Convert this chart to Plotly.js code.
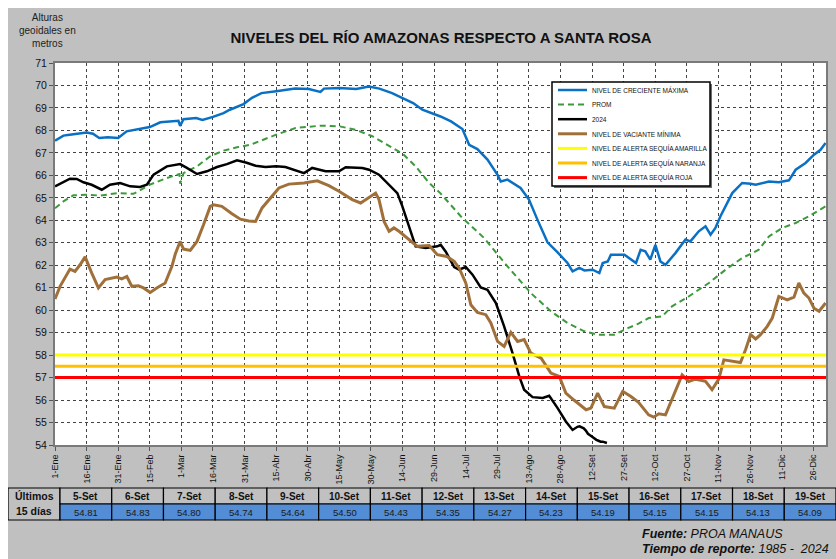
<!DOCTYPE html>
<html><head><meta charset="utf-8">
<script src="https://cdn.plot.ly/plotly-3.0.1.min.js"></script>
<style>
html,body{margin:0;padding:0;background:#ffffff;}
#chart{position:absolute;left:8px;top:8px;width:828px;height:551px;}
</style></head><body><div id="chart"></div>
<script>
// ---- Data (day of year index, 0 = 1-Ene, leap year) ----
const maxDays=[0,4,7,15,18,21,25,30,34,39,45,50,58.6,59.4,61,67,70,75,80,83,89.5,93.5,98,105,109,114,120.5,124.5,126,127.7,135,143,149,154,160,165,170,174.4,180,183,188,193.4,196.6,200.5,205.3,210,211.6,214.8,221,225,229,233.8,238.6,243.3,245.7,248.9,251.3,255.2,258.4,260,262.4,263.9,270.3,275.8,278,280.2,282.6,285,287.4,289.8,294.5,299.3,301.6,305.6,308.8,311.2,313.5,315.9,321.5,326.2,330.2,332.6,338.9,343.6,348.4,351.6,356.3,360.3,363.4,365.8];
const maxVals=[67.54,67.77,67.81,67.91,67.85,67.66,67.70,67.66,67.96,68.06,68.15,68.36,68.43,68.20,68.50,68.55,68.47,68.60,68.77,68.92,69.17,69.45,69.66,69.74,69.78,69.86,69.84,69.77,69.71,69.86,69.89,69.84,69.95,69.86,69.66,69.44,69.22,68.92,68.73,68.62,68.40,68.06,67.36,67.17,66.70,66.03,65.73,65.81,65.44,64.92,64.03,63.02,62.57,62.10,61.73,61.88,61.77,61.80,61.65,62.10,62.17,62.47,62.47,62.10,62.69,62.62,62.25,62.91,62.17,62.02,62.54,63.14,63.06,63.51,63.73,63.36,63.66,64.18,65.21,65.66,65.63,65.58,65.73,65.69,65.78,66.25,66.55,66.92,67.14,67.44];

const promDays=[0,4,8.7,14.7,21.4,29.8,37.2,39.6,44.8,53.1,59.1,59.4,61,67.4,73.7,80,86.4,92.7,96.8,105,114.2,126.1,135.1,142.7,150.6,158.6,165.2,171.2,177.6,183,192.6,203.7,214.8,225.9,235.4,243.3,251.3,257.6,265.5,271.9,277,281.8,288.2,292.9,300.8,310.4,318.3,326.2,334.1,338.9,345.2,351.6,357.9,365.8];
const promVals=[64.54,64.84,65.11,65.14,65.10,65.21,65.18,65.29,65.58,65.88,66.06,65.63,66.10,66.40,66.85,67.10,67.25,67.36,67.51,67.81,68.11,68.21,68.18,68.03,67.74,67.32,66.95,66.40,65.66,65.20,64.18,63.21,61.95,60.76,59.95,59.43,59.06,58.91,58.91,59.20,59.40,59.65,59.72,60.17,60.61,61.21,61.80,62.32,62.69,63.28,63.66,63.88,64.18,64.62];

const y2024Days=[0,4,7.1,10.3,13.5,17.4,22.2,26.1,30.9,35.7,40.4,43.6,46.8,53.1,59.4,62.6,67.4,72.1,76.9,81.6,86.4,91,95.2,99.9,105,109.4,114.2,118.2,122.1,128.5,134.8,138,145.9,149.1,153.8,158.6,162.5,164.9,168.1,171.2,176,181.5,183.1,185.5,189.5,191.8,195,198.2,202.1,205.3,209.3,213.2,217.2,220.4,222.7,226.7,231.5,234.6,238.6,242.5,245.7];
const y2024Vals=[65.51,65.69,65.85,65.84,65.69,65.58,65.36,65.58,65.66,65.51,65.48,65.58,66.03,66.40,66.50,66.33,66.06,66.18,66.37,66.50,66.67,66.56,66.43,66.37,66.40,66.37,66.22,66.10,66.33,66.18,66.18,66.36,66.33,66.25,66.03,65.58,65.21,64.62,63.66,62.84,62.77,62.84,62.91,62.60,61.92,61.80,61.92,61.58,61.01,60.91,60.32,59.28,58.09,57.05,56.46,56.13,56.09,56.19,55.64,55.05,54.67];

// Last 15 days (table)
const lastLabels=['5-Set','6-Set','7-Set','8-Set','9-Set','10-Set','11-Set','12-Set','13-Set','14-Set','15-Set','16-Set','17-Set','18-Set','19-Set'];
const lastDays=[248,249,250,251,252,253,254,255,256,257,258,259,260,261,262];
const lastVals=[54.81,54.83,54.80,54.74,54.64,54.50,54.43,54.35,54.27,54.23,54.19,54.15,54.15,54.13,54.09];

const minDays=[0,2.4,7.1,9.5,11.9,14.3,17.4,20.6,23.8,27.7,29.3,31.7,34.1,36.5,39.6,42,45.2,48.3,52.3,55.5,57.1,59.4,61,64.2,67.4,70.5,73.7,75.3,79.2,84,88,92,95.2,98.3,102.3,106.3,111,118.2,124.5,130,134.8,141.1,145.1,149.1,152.2,153.8,156.2,158.6,160.9,163.3,165.7,168.9,172,177.6,181.5,186,189.5,191.8,195,197.4,200.5,204.5,206.9,210.1,213.2,216.4,219.6,222.7,225.9,230.7,235.4,239.4,242.5,246.5,252.1,254.4,257.6,260.8,265.5,269.5,273.4,277,281.8,284.2,286.6,289.8,292.9,295.3,297.7,300.8,304,307.2,308.8,311.9,315.1,317.5,321.5,325.4,327.8,330.2,332.6,334.9,338.1,340.5,343.6,347.6,350.8,353.1,355.5,357.9,360.3,362.7,365.8];
const minVals=[60.50,61.06,61.83,61.73,62.02,62.37,61.66,60.99,61.36,61.43,61.47,61.39,61.50,61.06,61.09,60.99,60.79,60.99,61.21,61.95,62.50,63.06,62.72,62.66,63.06,63.80,64.62,64.69,64.62,64.29,64.05,63.97,63.95,64.55,64.99,65.44,65.61,65.66,65.76,65.54,65.29,64.92,64.77,65.04,65.21,64.92,63.95,63.51,63.66,63.51,63.33,63.06,62.84,62.88,62.47,62.39,62.17,61.88,61.21,60.24,59.90,59.80,59.43,58.61,58.39,59.01,58.61,58.69,58.09,57.87,57.20,57.05,56.31,55.99,55.57,55.64,56.31,55.71,55.64,56.39,56.16,55.90,55.34,55.24,55.39,55.34,56.01,56.53,57.12,56.83,56.93,56.87,56.83,56.46,56.93,57.79,57.72,57.67,58.24,58.91,58.72,58.91,59.28,59.65,60.61,60.46,60.58,61.21,60.76,60.54,60.09,59.95,60.32];

const alertNames=['NIVEL DE ALERTA SEQUÍA AMARILLA','NIVEL DE ALERTA SEQUÍA NARANJA','NIVEL DE ALERTA SEQUÍA ROJA'];
const alertLevels=[58.0,57.5,57.0];
const alertSpan=[0,366];

const xTickVals=[0,15,30,45,60,75,90,105,120,135,150,165,180,195,210,225,240,255,270,285,300,315,330,345,360];
const xTickText=['1-Ene','16-Ene','31-Ene','15-Feb','1-Mar','16-Mar','31-Mar','15-Abr','30-Abr','15-May','30-May','14-Jun','29-Jun','14-Jul','29-Jul','13-Ago','28-Ago','12-Set','27-Set','12-Oct','27-Oct','11-Nov','26-Nov','11-Dic','26-Dic'];

// ---- Layout helpers (page px -> paper fraction; figure origin at page (8,8)) ----
const W=828,H=551,OX=8,OY=8;
const fx=x=>(x-OX)/W, fy=y=>1-(y-OY)/H;
const FONT='Liberation Sans, Arial, sans-serif';

const traces=[
  {name:'NIVEL DE CRECIENTE MÁXIMA',x:maxDays,y:maxVals,color:'#0A70C4',width:2.5,dash:'solid'},
  {name:'PROM',x:promDays,y:promVals,color:'#3C9A3C',width:2,dash:'6px,4px'},
  {name:'2024',x:y2024Days.concat(lastDays),y:y2024Vals.concat(lastVals),color:'#000000',width:2.5,dash:'solid'},
  {name:'NIVEL DE VACIANTE MÍNIMA',x:minDays,y:minVals,color:'#A0703A',width:3,dash:'solid'}
];
const alertColors=['#FFFF00','#FFC000','#FF0000'];
alertLevels.forEach((lv,i)=>traces.push({name:alertNames[i],x:alertSpan,y:[lv,lv],color:alertColors[i],width:3,dash:'solid'}));

const data=traces.map(t=>({type:'scatter',mode:'lines',name:t.name,x:t.x,y:t.y,
  line:{color:t.color,width:t.width,dash:t.dash},hoverinfo:'skip',showlegend:false}));

const shapes=[], annotations=[];
const txt=(x,y,text,size,opts)=>Object.assign({xref:'paper',yref:'paper',x:fx(x),y:fy(y),xanchor:'center',yanchor:'middle',
  showarrow:false,text:text,font:{family:FONT,size:size,color:'#111'}},opts||{});

// Manual legend
const lgL=552,lgR=710,lgT=82,lgB=186;
shapes.push({type:'rect',xref:'paper',yref:'paper',x0:fx(lgL+2),x1:fx(lgR+2),y0:fy(lgB+2),y1:fy(lgT+2),fillcolor:'#6e6e6e',line:{width:0},layer:'above'});
shapes.push({type:'rect',xref:'paper',yref:'paper',x0:fx(lgL),x1:fx(lgR),y0:fy(lgB),y1:fy(lgT),fillcolor:'#ffffff',line:{color:'#000',width:1.5},layer:'above'});
traces.forEach((t,i)=>{
  const yy=90+i*14.6;
  shapes.push({type:'line',xref:'paper',yref:'paper',x0:fx(558),x1:fx(587),y0:fy(yy),y1:fy(yy),line:{color:t.color,width:t.width,dash:t.dash},layer:'above'});
  annotations.push(txt(590,yy,t.name,6.5,{xanchor:'left'}));
});

// Table
const tT=488,tM=504,tB=520,tL=8,fR=60,colW=(836-60)/15;
shapes.push({type:'rect',xref:'paper',yref:'paper',x0:fx(tL),x1:fx(fR),y0:fy(tB),y1:fy(tT),fillcolor:'#C0C0C0',line:{color:'#000',width:1.2},layer:'below'});
annotations.push(txt((tL+fR)/2,496,'<b>Últimos</b>',10.5));
annotations.push(txt((tL+fR)/2,511,'<b>15 días</b>',10.5));
lastLabels.forEach((lab,i)=>{
  const x0=fR+i*colW,x1=x0+colW;
  shapes.push({type:'rect',xref:'paper',yref:'paper',x0:fx(x0),x1:fx(x1),y0:fy(tM),y1:fy(tT),fillcolor:'#C0C0C0',line:{color:'#000',width:1.2},layer:'below'});
  shapes.push({type:'rect',xref:'paper',yref:'paper',x0:fx(x0),x1:fx(x1),y0:fy(tB),y1:fy(tM),fillcolor:'#538DD5',line:{color:'#000',width:1.2},layer:'below'});
  annotations.push(txt((x0+x1)/2,496,'<b>'+lab+'</b>',10));
  annotations.push(txt((x0+x1)/2,512,lastVals[i].toFixed(2),9.5,{font:{family:FONT,size:9.5,color:'#1a1a1a'}}));
});

// Y title
annotations.push(txt(47,31,'Alturas<br>geoidales en<br>metros',10,{font:{family:FONT,size:10,color:'#222'}}));

// Footer
annotations.push(txt(640,534,'<b><i>Fuente:</i></b><i> PROA MANAUS</i>',12.5,{xanchor:'left'}));
annotations.push(txt(640,549,'<b><i>Tiempo de reporte:</i></b><i> 1985 -  2024</i>',12.5,{xanchor:'left'}));

const layout={
  width:W,height:H,
  margin:{l:0,r:0,t:0,b:0},
  paper_bgcolor:'#C0C0C0',plot_bgcolor:'#FFFFFF',
  showlegend:false,
  title:{text:'<b>NIVELES DEL RÍO AMAZONAS RESPECTO A SANTA ROSA</b>',x:fx(441),y:fy(38),xanchor:'center',yanchor:'middle',
    font:{family:FONT,size:15,color:'#111'}},
  xaxis:{domain:[fx(55),fx(826)],range:[0,366],tickmode:'array',tickvals:xTickVals,ticktext:xTickText,tickangle:-90,
    tickfont:{family:FONT,size:9,color:'#111'},ticks:'outside',ticklen:4,tickcolor:'#555',
    showgrid:true,gridcolor:'#444',griddash:'dot',gridwidth:1,zeroline:false,
    showline:true,linecolor:'#7a7a7a',linewidth:2,mirror:true,fixedrange:true},
  yaxis:{domain:[fy(445),fy(63)],range:[54,71],dtick:1,tick0:54,
    tickfont:{family:FONT,size:10.5,color:'#111'},ticks:'outside',ticklen:4,tickcolor:'#555',
    showgrid:true,gridcolor:'#444',griddash:'dot',gridwidth:1,zeroline:false,
    showline:true,linecolor:'#7a7a7a',linewidth:2,mirror:true,fixedrange:true},
  shapes:shapes,annotations:annotations
};
Plotly.newPlot('chart',data,layout,{displayModeBar:false,staticPlot:true});
</script></body></html>
